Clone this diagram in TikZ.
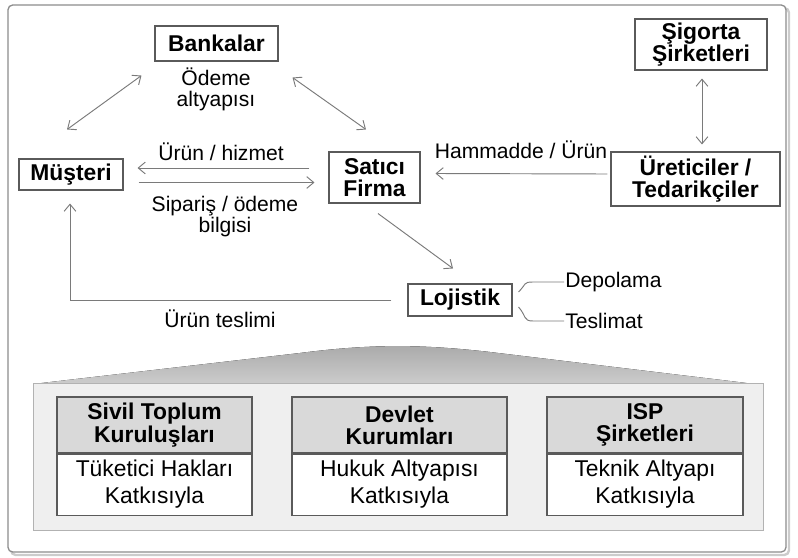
\documentclass[tikz,border=0pt]{standalone}
\usepackage{fontspec}
\setmainfont{Liberation Sans}
\usepackage{tikz}
\usetikzlibrary{arrows.meta,positioning,calc}
\definecolor{FrameLine}{HTML}{8C8C8C}
\definecolor{LinkGray}{HTML}{7A7A7A}
\definecolor{BoxLine}{HTML}{5A5A5A}
\definecolor{HeadFill}{HTML}{D9D9D9}
\definecolor{PanelFill}{HTML}{EFEFEF}
\definecolor{WedgeTop}{HTML}{A9A9A9}
\definecolor{WedgeBottom}{HTML}{CDCDCD}

\tikzset{
  actor/.style={draw=BoxLine, line width=0.9pt, fill=white, inner sep=0pt, align=center,
    font=\bfseries\fontsize{19.5}{19}\selectfont},
  note/.style={inner sep=1pt, align=center, font=\fontsize{18}{18}\selectfont},
  link/.style={draw=LinkGray, line width=0.8pt, -{Straight Barb[length=6pt,width=10pt]}},
  twoway/.style={link, {Straight Barb[length=6pt,width=10pt]}-{Straight Barb[length=6pt,width=10pt]}},
  brace/.style={draw=LinkGray, line width=0.8pt},
  head/.style={draw=BoxLine, line width=0.9pt, fill=HeadFill, inner sep=0pt, align=center,
    minimum height=1.68cm, font=\bfseries\fontsize{19.5}{19}\selectfont},
  body/.style={draw=BoxLine, line width=0.9pt, fill=white, inner sep=0pt, align=center,
    minimum height=1.83cm, font=\fontsize{19.5}{23}\selectfont}
}

\begin{document}
\begin{tikzpicture}[x=0.03cm,y=-0.03cm]
\useasboundingbox (0,0) rectangle (798,558);
% frame
\draw[black!20, line width=2pt, rounded corners=4pt] (11,8) rectangle (789,555);
\draw[FrameLine, line width=1.1pt, fill=white, rounded corners=4pt] (8,5) rectangle (786,552);

% top part
\node[actor, minimum width=3.69cm, minimum height=1.05cm] (bankalar) at (216.5,43.5) {Bankalar};
\node[note] (odeme) at (216,89) {Ödeme\\altyapısı};
\node[actor, minimum width=3.12cm, minimum height=0.93cm] (musteri) at (71,174.5) {Müşteri};
\node[actor, minimum width=2.73cm, minimum height=1.53cm] (satici) at (374.5,177.5) {Satıcı\\Firma};
\node[actor, minimum width=3.96cm, minimum height=1.53cm] (sigorta) at (701,44.5) {Şigorta\\Şirketleri};
\node[actor, minimum width=5.07cm, minimum height=1.62cm] (uretici) at (695.5,179) {Üreticiler /\\Tedarikçiler};
\node[actor, minimum width=3.12cm, minimum height=0.96cm] (lojistik) at (460,300) {Lojistik};

\node[note] (urun) at (221,152) {Ürün / hizmet};
\node[note] (siparis) at (225,217) {Sipariş / ödeme\\bilgisi};
\node[note] (hammadde) at (521,150) {Hammadde / Ürün};
\node[note] (teslimi) at (220,319) {Ürün teslimi};
\node[note, anchor=west] (depolama) at (564,282) {Depolama};
\node[note, anchor=west] (teslimat) at (564,321) {Teslimat};

% connectors
\draw[twoway] ($(bankalar.south west)+(-13,14)$) -- ($(musteri.north)+(-4,-29)$);
\draw[twoway] ($(bankalar.south east)+(14,16)$) -- ($(satici.north)+(-8.5,-22)$);
\draw[link] ($(satici.west)+(-19,-9.5)$) -- ($(musteri.east)+(14,-6.5)$);
\draw[link] ($(musteri.east)+(15,8)$) -- ($(satici.west)+(-14,5)$);
\draw[link] ($(uretici.west)+(-3,-5)$) -- ($(satici.east)+(15,-4)$);
\draw[twoway] ($(sigorta.south)+(1,8)$) -- ($(uretici.north)+(6.5,-7)$);
\draw[link] ($(satici.south)+(3.5,10)$) -- ($(lojistik.north)+(-7,-15)$);
\draw[link] ($(lojistik.west)+(-16,0)$) -| ($(musteri.south)+(-1,13)$);
\draw[brace] ($(lojistik.east)+(6,-8)$) .. controls +(8,-8) and +(-10,0) .. ($(depolama.west)+(-31,0)$) -- (depolama.west);
\draw[brace] ($(lojistik.east)+(6,7)$) .. controls +(8,9) and +(-10,0) .. ($(teslimat.west)+(-31,0)$) -- (teslimat.west);

% bottom part
\fill[top color=WedgeTop, bottom color=WedgeBottom] (33,384) -- (300,353) .. controls (370,344) and (420,344) .. (490,352) -- (763,385) -- cycle;
\filldraw[fill=PanelFill, draw=black!30, line width=0.8pt] (33,383) rectangle (763,530);

\node[head, minimum width=5.85cm] (sivil) at (154.5,425) {Sivil Toplum\\Kuruluşları};
\node[body, minimum width=5.85cm, below=0pt of sivil] (tuketici) {Tüketici Hakları\\Katkısıyla};
\node[head, minimum width=6.45cm] (devlet) at (399.5,425) {Devlet\\Kurumları};
\node[body, minimum width=6.45cm, below=0pt of devlet] (hukuk) {Hukuk Altyapısı\\Katkısıyla};
\node[head, minimum width=5.88cm] (isp) at (645,425) {ISP\\Şirketleri};
\node[body, minimum width=5.88cm, below=0pt of isp] (teknik) {Teknik Altyapı\\Katkısıyla};
\end{tikzpicture}
\end{document}
